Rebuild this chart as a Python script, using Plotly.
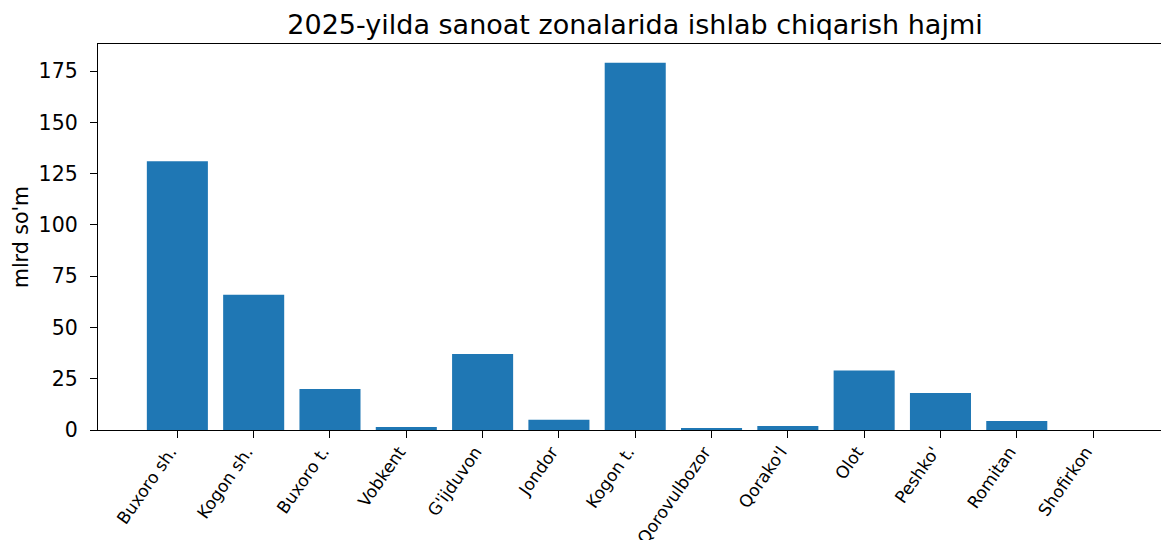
import plotly.graph_objects as go

districts = ["Buxoro sh.", "Kogon sh.", "Buxoro t.", "Vobkent", "G'ijduvon", "Jondor",
             "Kogon t.", "Qorovulbozor", "Qorako'l", "Olot", "Peshko'", "Romitan", "Shofirkon"]
volume = [131, 66, 20, 1.5, 37, 5, 179, 1, 2, 29, 18, 4.4, 0]

FONT = "DejaVu Sans, Arial, sans-serif"

fig = go.Figure()
fig.add_trace(go.Bar(x=list(range(len(districts))), y=volume, width=0.8,
                     marker=dict(color="#1f77b4", line=dict(width=0))))

fig.update_layout(
    width=1162, height=540,
    paper_bgcolor="white", plot_bgcolor="white",
    font=dict(family=FONT, color="black"),
    margin=dict(l=98, r=1, t=44, b=110),
    title=dict(text="2025-yilda sanoat zonalarida ishlab chiqarish hajmi",
               x=(98 + 1172) / 2 / 1162, xanchor="center", y=1 - 25 / 540, yanchor="middle",
               font=dict(size=27, family=FONT, color="black")),
    showlegend=False,
)
fig.update_xaxes(
    range=[-1.04, 12.89], tickmode="array", tickvals=list(range(len(districts))),
    ticktext=districts, tickangle=-55, tickfont=dict(size=17, family=FONT),
    ticklabelshift=-7, ticklabelstandoff=-3,
    showline=True, linecolor="black", linewidth=1.3, mirror=True,
    ticks="outside", ticklen=7, tickcolor="black", tickwidth=1.3,
    showgrid=False, zeroline=False, automargin=False,
)
fig.update_yaxes(
    range=[0, 188.2], tickvals=[0, 25, 50, 75, 100, 125, 150, 175],
    tickfont=dict(size=20.5, family=FONT), ticklabelstandoff=8,
    title=dict(text="mlrd so'm", font=dict(size=20.5, family=FONT), standoff=4),
    showline=True, linecolor="black", linewidth=1.3, mirror=False,
    ticks="outside", ticklen=7, tickcolor="black", tickwidth=1.3,
    showgrid=False, zeroline=False, automargin=False,
)

# page body has a default 8px margin; drop it so the figure sits at the corner
fig.write_html("out.html", config={"responsive": False, "displayModeBar": False},
               post_script="document.body.style.margin='0';document.body.style.overflow='hidden';")
